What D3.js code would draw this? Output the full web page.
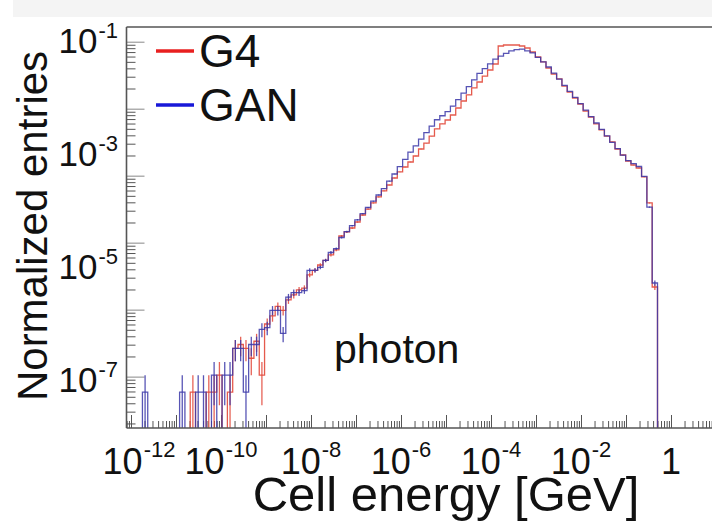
<!DOCTYPE html>
<html>
<head>
<meta charset="utf-8">
<script src="https://cdn.jsdelivr.net/npm/d3@7"></script>
<style>
  body { margin: 0; background: #fff; }
  svg { display: block; font-family: "Liberation Sans", Arial, sans-serif; }
</style>
</head>
<body>
<div id="chart"></div>
<script>
// binning in log10(E / GeV)
const binLog0 = -12.1;
const binWidth = 0.118;
const nBins = 112;
// normalized weight of one entry (used for the error bars)
const entryWeight = 6e-8;

// normalized entries per bin, bins 0..99 (the rest are empty)
const g4 = [
  0, 0, 0, 0, 0, 0, 0, 0, 0, 0,
  0, 0, 6e-8, 0, 0, 6e-8, 6e-8, 1.2e-7, 0, 6e-8,
  3.6e-7, 4.2e-7, 3.6e-7, 2.4e-7, 4.8e-7, 1.2e-7, 9.7e-7, 1.35e-6, 2.0e-6, 1.7e-6,
  2.6e-6, 3.2e-6, 3.9e-6, 4.2e-6, 7.2e-6, 8.7e-6, 1.08e-5, 1.3e-5, 1.63e-5, 2.0e-5,
  3.53e-5, 4.16e-5, 4.89e-5, 6.25e-5, 8.32e-5, 1.06e-4, 1.36e-4, 1.74e-4, 2.22e-4, 2.83e-4,
  3.77e-4, 4.82e-4, 5.90e-4, 7.24e-4, 9.25e-4, 1.23e-3, 1.57e-3, 2.09e-3, 2.79e-3, 3.42e-3,
  4.02e-3, 4.93e-3, 6.57e-3, 8.74e-3, 1.12e-2, 1.49e-2, 1.90e-2, 2.42e-2, 3.10e-2, 3.96e-2,
  8.25e-2, 8.60e-2, 8.60e-2, 8.60e-2, 8.25e-2, 7.61e-2, 6.46e-2, 5.27e-2, 4.30e-2, 3.36e-2,
  2.63e-2, 2.15e-2, 1.61e-2, 1.26e-2, 9.88e-3, 7.73e-3, 5.81e-3, 4.55e-3, 3.42e-3, 2.68e-3,
  2.09e-3, 1.64e-3, 1.23e-3, 9.64e-4, 7.54e-4, 6.41e-4, 5.67e-4, 3.93e-4, 1.36e-4, 4.4e-6
];
const gan = [
  0, 0, 0, 6e-8, 0, 0, 0, 0, 0, 0,
  6e-8, 0, 0, 6e-8, 6e-8, 0, 1.2e-7, 0, 1.2e-7, 1.2e-7,
  3.6e-7, 3.6e-7, 6e-8, 4.2e-7, 4.2e-7, 7.8e-7, 8.4e-7, 1.7e-6, 1.7e-6, 6.6e-7,
  2.9e-6, 3.5e-6, 3.5e-6, 3.8e-6, 8.7e-6, 8.7e-6, 9.8e-6, 1.3e-5, 1.8e-5, 2.1e-5,
  3.32e-5, 4.22e-5, 5.37e-5, 6.84e-5, 8.77e-5, 1.13e-4, 1.46e-4, 1.88e-4, 2.45e-4, 3.31e-4,
  4.44e-4, 5.98e-4, 8.05e-4, 1.08e-3, 1.40e-3, 1.84e-3, 2.40e-3, 3.12e-3, 4.06e-3, 4.78e-3,
  5.65e-3, 7.07e-3, 9.25e-3, 1.21e-2, 1.57e-2, 2.07e-2, 2.70e-2, 3.28e-2, 3.97e-2, 4.82e-2,
  5.47e-2, 6.10e-2, 6.79e-2, 7.13e-2, 7.27e-2, 6.79e-2, 6.23e-2, 5.18e-2, 4.31e-2, 3.50e-2,
  2.73e-2, 2.13e-2, 1.66e-2, 1.29e-2, 1.01e-2, 7.83e-3, 6.00e-3, 4.62e-3, 3.56e-3, 2.74e-3,
  2.10e-3, 1.62e-3, 1.25e-3, 9.60e-4, 7.64e-4, 6.78e-4, 6.03e-4, 4.01e-4, 1.15e-4, 5.18e-6
];

const seriesNames = ["G4", "GAN"];
const seriesColors = ["#e2483a", "#3b37a8"];
const xLabelValues = [1e-12, 1e-10, 1e-8, 1e-6, 1e-4, 1e-2, 1];
const yLabelValues = [1e-1, 1e-3, 1e-5, 1e-7];

const width = 712;
const height = 521;
const frame = { left: 126.5, right: 722.75, top: 27, bottom: 428 };

// Set scales
let x = d3
  .scaleLog()
  .domain([10 ** binLog0, 10 ** 1.15])
  .range([frame.left, frame.right]);
let y = d3
  .scaleLog()
  .domain([1.39e-8, 0.1793])
  .range([frame.bottom, frame.top]);
// the tick marks of the source sit on a wider decade spacing than its labels
let yTick = d3
  .scaleLog()
  .domain([1.71e-7, 0.1657])
  .range([frame.bottom, frame.top]);

function decadeTicks(scale, lo, hi) {
  let major = [], minor = [];
  let [d0, d1] = scale.domain();
  for (let e = lo; e <= hi; e++) {
    for (let m = 1; m <= 9; m++) {
      let v = m * Math.pow(10, e);
      if (v < d0 || v > d1) continue;
      (m === 1 ? major : minor).push(v);
    }
  }
  return { major, minor };
}

// "10" with a raised exponent, as two separate texts that do not overlap
function powerLabel(g, value, opts) {
  let e = Math.round(Math.log10(value));
  let base = g.append("text")
    .attr("font-size", opts.size)
    .attr("fill", "#111")
    .text(e === 0 ? "1" : "10");
  let baseW = base.node().getComputedTextLength();
  let expW = 0, exp = null;
  if (e !== 0) {
    exp = g.append("text")
      .attr("font-size", opts.expSize)
      .attr("fill", "#111")
      .text(e);
    expW = exp.node().getComputedTextLength();
  }
  let total = baseW + (exp ? expW + 1 : 0);
  let left = opts.anchor === "end" ? opts.x - total : opts.x - total / 2;
  base.attr("x", left).attr("y", opts.y);
  if (exp) exp.attr("x", left + baseW + 1).attr("y", opts.y + opts.dy);
}

// create svg
let svg = d3
  .select("#chart")
  .append("svg")
  .attr("width", width)
  .attr("height", height);

svg.append("rect")
  .attr("x", 13).attr("y", 0)
  .attr("width", width - 13).attr("height", 17)
  .attr("fill", "#f4f4f4");

svg.append("clipPath").attr("id", "plot-clip")
  .append("rect")
  .attr("x", frame.left).attr("y", frame.top - 1)
  .attr("width", frame.right - frame.left)
  .attr("height", frame.bottom - frame.top + 1);

// X ticks (pointing up into the frame)
let xt = decadeTicks(x, -13, 1);
svg.append("g")
  .attr("transform", `translate(0, ${frame.bottom})`)
  .call(d3.axisBottom(x).tickValues(xt.minor).tickSize(-7).tickFormat(""))
  .call(g => g.select(".domain").remove())
  .call(g => g.selectAll("line").attr("stroke", "#555"));
svg.append("g")
  .attr("transform", `translate(0, ${frame.bottom})`)
  .call(d3.axisBottom(x).tickValues(xt.major).tickSize(-13).tickFormat(""))
  .call(g => g.select(".domain").remove())
  .call(g => g.selectAll("line").attr("stroke", "#555"));

// Y ticks (pointing right into the frame)
let yt = decadeTicks(yTick, -7, -1);
svg.append("g")
  .attr("transform", `translate(${frame.left}, 0)`)
  .call(d3.axisLeft(yTick).tickValues(yt.minor).tickSize(-9).tickFormat(""))
  .call(g => g.select(".domain").remove())
  .call(g => g.selectAll("line").attr("stroke", "#555"));
svg.append("g")
  .attr("transform", `translate(${frame.left}, 0)`)
  .call(d3.axisLeft(yTick).tickValues(yt.major).tickSize(-18).tickFormat(""))
  .call(g => g.select(".domain").remove())
  .call(g => g.selectAll("line").attr("stroke", "#888"));

// Histograms
let plot = svg.append("g").attr("clip-path", "url(#plot-clip)");
let yOf = v => (v > 0 ? y(v) : frame.bottom + 1);
let stepLine = d3
  .line()
  .x(d => x(d[0]))
  .y(d => yOf(d[1]))
  .curve(d3.curveStepAfter);

[g4, gan].forEach((vals, s) => {
  let pts = [];
  for (let k = 0; k < nBins; k++) {
    pts.push([10 ** (binLog0 + binWidth * k), vals[k] || 0]);
  }
  pts.push([10 ** (binLog0 + binWidth * nBins), 0]);

  plot.append("path")
    .attr("d", stepLine(pts))
    .attr("fill", "none")
    .attr("stroke", seriesColors[s])
    .attr("stroke-width", 1.3)
    .attr("stroke-opacity", s === 1 ? 0.85 : 0.9);

  // error bars
  let errs = vals
    .map((v, k) => ({ k, v }))
    .filter(d => d.v > 0);
  plot.append("g")
    .selectAll("line")
    .data(errs)
    .enter()
    .append("line")
    .attr("x1", d => x(10 ** (binLog0 + binWidth * (d.k + 0.5))))
    .attr("x2", d => x(10 ** (binLog0 + binWidth * (d.k + 0.5))))
    .attr("y1", d => yOf(d.v - Math.sqrt(d.v * entryWeight)))
    .attr("y2", d => yOf(d.v + Math.sqrt(d.v * entryWeight)))
    .attr("stroke", seriesColors[s])
    .attr("stroke-width", 1.3)
    .attr("stroke-opacity", 0.85);
});

// Frame
let frameColor = "#555";
svg.append("line")
  .attr("x1", frame.left).attr("x2", frame.left)
  .attr("y1", frame.top).attr("y2", frame.bottom)
  .attr("stroke", frameColor).attr("stroke-width", 1.6);
svg.append("line")
  .attr("x1", frame.left).attr("x2", frame.right)
  .attr("y1", frame.top).attr("y2", frame.top)
  .attr("stroke", frameColor).attr("stroke-width", 1.6);
svg.append("line")
  .attr("x1", frame.left).attr("x2", frame.right)
  .attr("y1", frame.bottom).attr("y2", frame.bottom)
  .attr("stroke", frameColor).attr("stroke-width", 1.6);

// X labels (the first one is pushed right off the frame corner, as in the source)
xLabelValues.forEach((v, i) => {
  powerLabel(svg.append("g"), v, {
    x: x(v) + (i === 0 ? 8 : 0), y: 474, size: 36, expSize: 22, dy: -17, anchor: "middle"
  });
});

// Y labels
yLabelValues.forEach(v => {
  powerLabel(svg.append("g"), v, {
    x: 118, y: y(v) + 12, size: 35, expSize: 22, dy: -15, anchor: "end"
  });
});

// Axis titles
svg.append("text")
  .attr("x", 446)
  .attr("y", 511)
  .attr("text-anchor", "middle")
  .attr("font-size", 49)
  .attr("fill", "#111")
  .text("Cell energy [GeV]");
svg.append("text")
  .attr("transform", "translate(47, 226) rotate(-90)")
  .attr("text-anchor", "middle")
  .attr("font-size", 42)
  .attr("fill", "#111")
  .text("Normalized entries");

// photon label
svg.append("text")
  .attr("x", 334)
  .attr("y", 363)
  .attr("font-size", 41)
  .attr("fill", "#111")
  .text("photon");

// Legend
let legendColors = ["#e82020", "#1818d8"];
seriesNames.forEach((name, i) => {
  let ly = 51 + i * 54;
  svg.append("line")
    .attr("x1", 156).attr("x2", 194)
    .attr("y1", ly).attr("y2", ly)
    .attr("stroke", legendColors[i])
    .attr("stroke-width", 3.5);
  svg.append("text")
    .attr("x", 199)
    .attr("y", ly + 16)
    .attr("font-size", 46)
    .attr("fill", "#111")
    .text(name);
});
</script>
</body>
</html>
